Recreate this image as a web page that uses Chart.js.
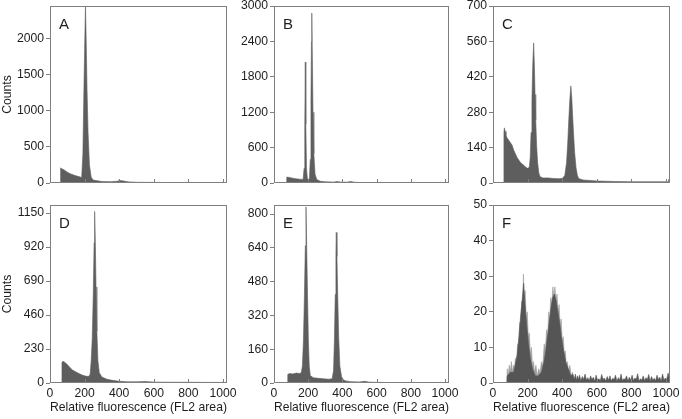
<!DOCTYPE html>
<html>
<head>
<meta charset="utf-8">
<script src="https://cdn.jsdelivr.net/npm/chart.js@4.4.1/dist/chart.umd.min.js"></script>
<style>
    html, body { margin: 0; padding: 0; background: #ffffff; overflow: hidden; }
    body { width: 682px; height: 419px; position: relative; }
    canvas { position: absolute; }
</style>
</head>
<body>
<canvas id="panelA"></canvas>
<canvas id="panelB"></canvas>
<canvas id="panelC"></canvas>
<canvas id="panelD"></canvas>
<canvas id="panelE"></canvas>
<canvas id="panelF"></canvas>
<script>
// channel ticks shared by every panel
const xTicks = [0, 200, 400, 600, 800, 1000];

// A
const chanA = [59, 60, 62, 80, 100, 120, 150, 175, 183, 190, 196, 202, 205, 209, 214, 220, 228, 238, 250, 300, 350, 390, 400, 420, 440, 460, 500, 600, 700, 800, 900, 1000, 1020];
const countsA = [0, 210, 205, 185, 150, 125, 100, 82, 75, 400, 1300, 2100, 2450, 2000, 1300, 700, 250, 80, 40, 20, 18, 25, 35, 30, 20, 15, 10, 8, 6, 5, 5, 5, 5];
const yTicksA = [0, 500, 1000, 1500, 2000];

// B
const chanB = [73, 74, 90, 110, 130, 150, 170, 176, 180, 183, 186, 190, 195, 200, 207, 212, 216, 219, 221, 224, 228, 233, 240, 250, 270, 300, 350, 370, 390, 430, 450, 470, 500, 600, 700, 800, 900, 1000, 1020];
const countsB = [0, 100, 95, 80, 70, 65, 60, 250, 1000, 2050, 1000, 250, 80, 60, 70, 400, 1400, 2400, 2880, 2200, 1200, 500, 150, 60, 30, 20, 15, 25, 15, 15, 25, 12, 8, 5, 4, 3, 3, 3, 3];
const yTicksB = [0, 600, 1200, 1800, 2400, 3000];

// C
const chanC = [62, 63, 66, 70, 75, 80, 90, 100, 110, 120, 130, 140, 150, 160, 170, 180, 190, 200, 210, 215, 220, 225, 230, 235, 239, 243, 247, 252, 258, 265, 272, 290, 320, 350, 380, 400, 415, 425, 432, 438, 444, 450, 455, 460, 466, 472, 480, 488, 495, 520, 560, 600, 650, 700, 800, 900, 1000, 1012, 1015, 1020];
const countsC = [0, 200, 218, 205, 190, 180, 170, 160, 150, 130, 115, 100, 90, 80, 75, 68, 62, 58, 62, 100, 200, 330, 470, 554, 470, 350, 250, 150, 80, 40, 25, 20, 20, 18, 17, 18, 30, 80, 160, 250, 330, 384, 340, 270, 190, 120, 60, 30, 18, 12, 10, 8, 7, 6, 5, 5, 5, 5, 14, 5];
const yTicksC = [0, 140, 280, 420, 560, 700];

// D
const chanD = [68, 69, 75, 85, 100, 115, 130, 150, 170, 190, 210, 225, 232, 238, 244, 250, 255, 258, 262, 266, 271, 277, 285, 300, 330, 360, 400, 450, 500, 550, 600, 700, 800, 900, 1000, 1020];
const countsD = [0, 140, 147, 140, 125, 105, 88, 75, 62, 52, 45, 45, 60, 150, 300, 600, 950, 1161, 950, 650, 350, 150, 70, 40, 25, 18, 12, 8, 8, 10, 6, 5, 5, 4, 4, 4];
const yTicksD = [0, 230, 460, 690, 920, 1150];

// E
const chanE = [79, 80, 90, 110, 130, 150, 160, 166, 172, 178, 183, 187, 191, 196, 201, 206, 212, 230, 260, 290, 320, 340, 348, 353, 358, 362, 364, 368, 373, 378, 385, 395, 405, 420, 450, 500, 530, 560, 600, 700, 800, 900, 1000, 1020];
const countsE = [0, 40, 45, 43, 47, 45, 50, 80, 200, 420, 650, 834, 650, 420, 200, 80, 35, 25, 22, 20, 18, 20, 60, 200, 420, 620, 713, 600, 400, 220, 80, 30, 15, 10, 6, 5, 8, 4, 3, 2, 2, 2, 2, 2];
const yTicksE = [0, 160, 320, 480, 640, 800];

// F: dark body (with the noisy tail) and light noisy envelope over the two peaks
const chanFBody = [80, 82, 100, 120, 140, 150, 160, 170, 177, 185, 195, 205, 215, 228, 245, 260, 280, 295, 305, 315, 325, 335, 345, 355, 365, 375, 385, 395, 405, 420, 435, 450, 460,
    470, 476, 482, 488, 494, 500, 508, 516, 524, 532, 540, 548, 556, 564, 572, 580, 588, 596, 604, 612, 620, 628, 636, 644, 652, 660, 668, 676, 684, 692, 700, 708, 716, 724, 732, 740,
    748, 756, 764, 772, 780, 788, 796, 804, 812, 820, 828, 836, 844, 852, 860, 868, 876, 884, 892, 900, 908, 916, 924, 932, 940, 948, 956, 964, 972, 980, 988, 996, 1004, 1012, 1020];
const countsFBody = [0, 2, 3, 3, 8, 13, 19, 24, 28, 22, 16, 11, 7, 4, 2, 2, 3, 6, 9, 13, 17, 21, 24, 25, 23, 20, 17, 13, 10, 6, 4, 2, 2.5,
    1, 2.5, 0.8, 2, 1, 2.2, 0.6, 1.8, 1, 2.5, 0.8, 1.5, 0.6, 2, 1, 1.6, 0.5, 2.2, 0.8, 1.2, 0.6, 2.4, 1, 1.4, 0.5, 1.8, 0.8, 2, 0.6, 1.3, 1, 2.2, 0.5, 1.5, 0.8, 2.5,
    0.6, 1.2, 1, 2, 0.5, 1.6, 0.8, 2.2, 0.6, 1.4, 1, 2.6, 0.5, 1.2, 0.8, 2, 0.6, 1.5, 1, 2.4, 0.5, 1.8, 0.8, 1.3, 0.6, 2.2, 1, 1.6, 0.5, 2.5, 0.8, 1.4, 1, 2.8, 1.2, 2];
const chanFPeak = [80, 82, 88, 94, 100, 106, 112, 118, 124, 130, 136, 142, 148, 154, 160, 166, 172, 176, 180, 186, 192, 198, 204, 210, 216, 222, 228, 234, 240, 248, 256, 264, 272, 280, 288, 296, 302, 310, 316, 322, 328, 334, 340, 346, 352, 358, 364, 370, 376, 382, 388, 394, 400, 406, 412, 418, 424, 430, 436, 444, 452, 460, 470];
const countsFPeak = [0, 4, 2, 5, 3, 6, 3, 5, 4, 7, 5, 11, 9, 17, 15, 23, 21, 30.6, 24, 26, 18, 20, 13, 14, 8, 10, 5, 6, 3, 5, 2, 4, 3, 6, 5, 11, 9, 15, 13, 20, 18, 24, 22, 27, 24, 27, 23, 25, 20, 22, 16, 18, 12, 13, 8, 9, 5, 6, 3, 5, 2, 3, 1];
const yTicksF = [0, 10, 20, 30, 40, 50];

const FONT = "'Liberation Sans', Arial, Helvetica, sans-serif";
const TEXT = "#1e1e1e";
const FRAME = "#7f7f7f";

function toPoints(chan, counts) {
    return chan.map((x, i) => ({ x: x, y: counts[i] }));
}

const framePlugin = {
    id: "frame",
    afterDraw(chart, args, opts) {
        const ctx = chart.ctx;
        const a = chart.chartArea;
        const xs = chart.scales.x;

        ctx.save();
        ctx.strokeStyle = FRAME;
        ctx.lineWidth = 1;
        ctx.strokeRect(a.left + 0.5, a.top + 0.5, a.right - a.left - 1, a.bottom - a.top - 1);

        // inward ticks on the channel axis
        ctx.beginPath();
        xTicks.forEach(v => {
            const px = Math.round(xs.getPixelForValue(v)) + 0.5;
            ctx.moveTo(px, a.bottom);
            ctx.lineTo(px, a.bottom - 4);
        });
        ctx.stroke();

        ctx.fillStyle = TEXT;
        ctx.font = "15px " + FONT;
        ctx.textBaseline = "alphabetic";
        ctx.fillText(opts.letter, a.left + 9, a.top + 23);
        ctx.restore();
    }
};

function createPanel(canvasId, letter, datasets, yTicks, yMax, box, showX, showYTitle) {
    const canvas = document.getElementById(canvasId);
    const padTop = 10;
    const padRight = 20;
    const yWidth = 50;
    const xHeight = 40;

    canvas.width = (box.right - box.left) + yWidth + padRight;
    canvas.height = (box.bottom - box.top) + padTop + xHeight;
    canvas.style.left = (box.left - yWidth) + "px";
    canvas.style.top = (box.top - padTop) + "px";

    new Chart(canvas, {
        type: "line",
        data: { datasets: datasets },
        options: {
            responsive: false,
            animation: false,
            layout: {
                padding: { top: padTop, right: padRight, left: 0, bottom: 0 }
            },
            elements: {
                point: { radius: 0 },
                line: { tension: 0 }
            },
            scales: {
                x: {
                    type: "linear",
                    min: 0,
                    max: 1023,
                    afterBuildTicks: s => { s.ticks = xTicks.map(v => ({ value: v })); },
                    afterFit: s => { s.height = xHeight; },
                    grid: { drawOnChartArea: false, drawTicks: false },
                    border: { display: false },
                    ticks: {
                        display: showX,
                        padding: 3,
                        maxRotation: 0,
                        color: TEXT,
                        font: { family: FONT, size: 12.2 },
                        callback: v => String(v)
                    },
                    title: {
                        display: showX,
                        text: "Relative fluorescence (FL2 area)",
                        color: TEXT,
                        padding: { top: 0, bottom: 8 },
                        font: { family: FONT, size: 13.2 }
                    }
                },
                y: {
                    min: 0,
                    max: yMax,
                    afterBuildTicks: s => { s.ticks = yTicks.map(v => ({ value: v })); },
                    afterFit: s => { s.width = yWidth; },
                    grid: {
                        drawOnChartArea: false,
                        drawTicks: true,
                        tickLength: 4,
                        color: FRAME
                    },
                    border: { display: false },
                    ticks: {
                        padding: 2,
                        color: TEXT,
                        font: { family: FONT, size: 12.2 },
                        callback: v => String(v)
                    },
                    title: {
                        display: showYTitle,
                        text: "Counts",
                        color: TEXT,
                        padding: { top: 0, bottom: 1 },
                        font: { family: FONT, size: 12.2 }
                    }
                }
            },
            plugins: {
                legend: { display: false },
                tooltip: { enabled: false },
                frame: { letter: letter }
            }
        },
        plugins: [framePlugin]
    });
}

function histogram(chan, counts, color) {
    return {
        data: toPoints(chan, counts),
        borderColor: color,
        backgroundColor: color,
        borderWidth: 0.6,
        fill: "origin"
    };
}

const GREY = "#5e5e5e";

createPanel("panelA", "A", [histogram(chanA, countsA, GREY)], yTicksA, 2450,
    { left: 50, top: 6, right: 227, bottom: 183 }, false, true);
createPanel("panelB", "B", [histogram(chanB, countsB, GREY)], yTicksB, 3000,
    { left: 274, top: 6, right: 449, bottom: 183 }, false, false);
createPanel("panelC", "C", [histogram(chanC, countsC, GREY)], yTicksC, 700,
    { left: 493, top: 6, right: 670, bottom: 183 }, false, false);
createPanel("panelD", "D", [histogram(chanD, countsD, GREY)], yTicksD, 1205,
    { left: 50, top: 205, right: 227, bottom: 383 }, true, true);
createPanel("panelE", "E", [histogram(chanE, countsE, GREY)], yTicksE, 843,
    { left: 274, top: 205, right: 449, bottom: 383 }, true, false);
createPanel("panelF", "F", [
        histogram(chanFBody, countsFBody, "#555555"),
        histogram(chanFPeak, countsFPeak, "#9c9c9c")
    ], yTicksF, 50,
    { left: 493, top: 205, right: 670, bottom: 383 }, true, false);
</script>
</body>
</html>
